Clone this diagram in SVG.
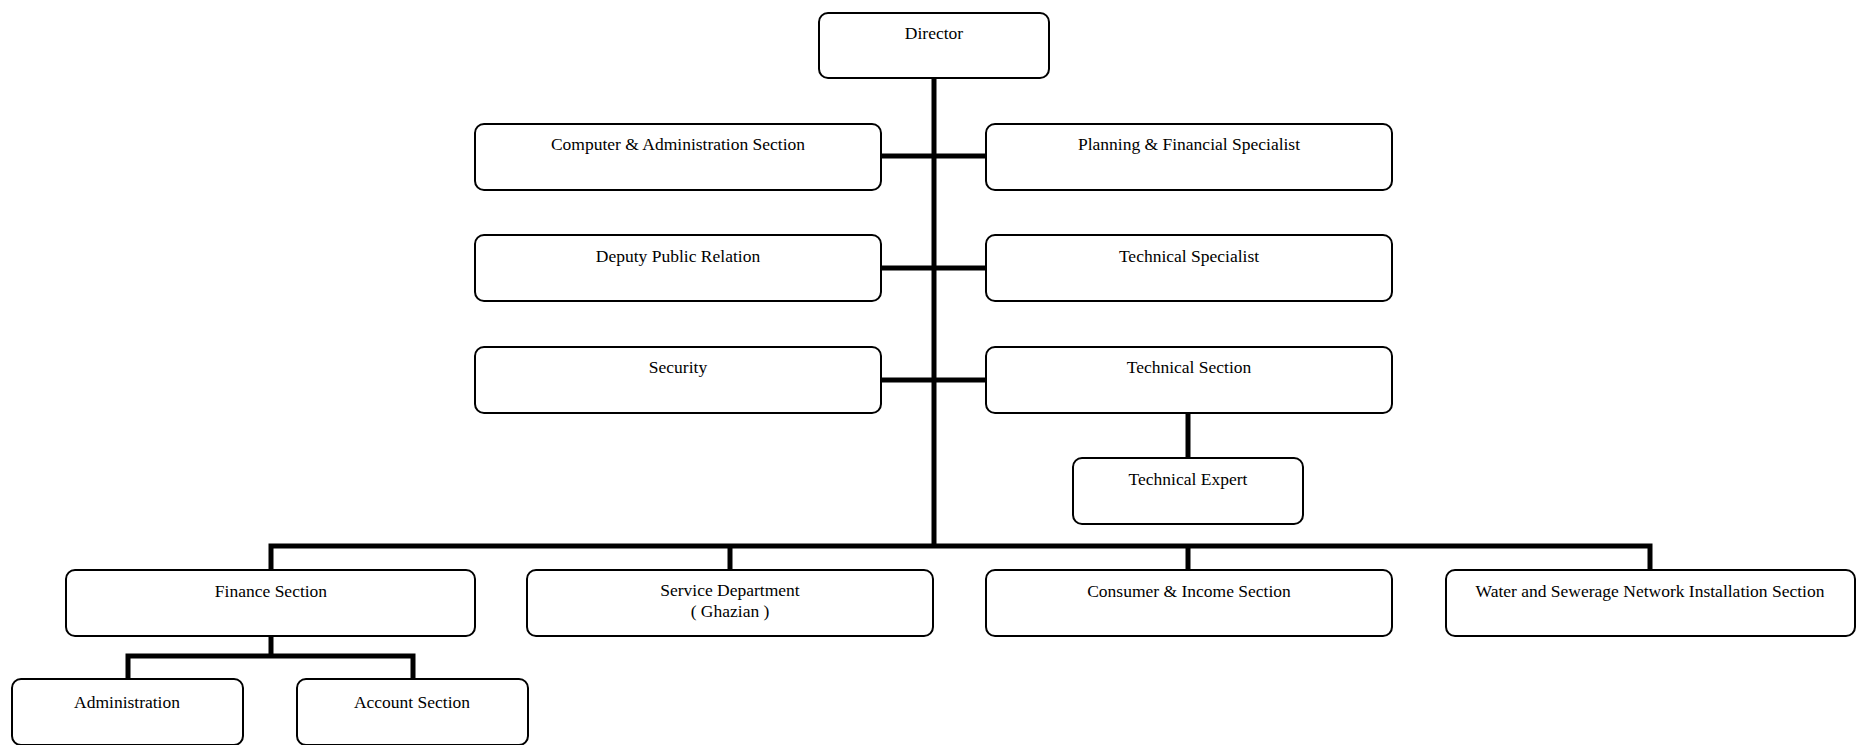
<svg xmlns="http://www.w3.org/2000/svg" width="1861" height="745" viewBox="0 0 1861 745">
<style>
  .box { fill: #ffffff; stroke: #000000; stroke-width: 2; }
  .lbl { font-family: "Liberation Serif", "Times New Roman", serif; font-size: 17.5px; fill: #000000; text-anchor: middle; }
  .conn { stroke: #000000; stroke-width: 5; fill: none; stroke-linecap: butt; }
</style>
<rect width="1861" height="745" fill="#ffffff"/>
<g id="connectors">
  <line class="conn" x1="934" y1="78" x2="934" y2="548"/>
  <line class="conn" x1="881" y1="156" x2="986" y2="156"/>
  <line class="conn" x1="881" y1="268" x2="986" y2="268"/>
  <line class="conn" x1="881" y1="380" x2="986" y2="380"/>
  <line class="conn" x1="1188" y1="413" x2="1188" y2="458"/>
  <polyline class="conn" points="271,570 271,546 1650,546 1650,570"/>
  <line class="conn" x1="730" y1="546" x2="730" y2="570"/>
  <line class="conn" x1="1188" y1="546" x2="1188" y2="570"/>
  <line class="conn" x1="271" y1="636" x2="271" y2="656"/>
  <polyline class="conn" points="128,679 128,656 413,656 413,679"/>
</g>
<g id="director"><rect class="box" x="819" y="13" width="230" height="65" rx="9"/><text class="lbl" x="934" y="39">Director</text></g>
<g id="computer-admin"><rect class="box" x="475" y="124" width="406" height="66" rx="9"/><text class="lbl" x="678" y="150">Computer &amp; Administration Section</text></g>
<g id="planning-financial"><rect class="box" x="986" y="124" width="406" height="66" rx="9"/><text class="lbl" x="1189" y="150">Planning &amp; Financial Specialist</text></g>
<g id="deputy-pr"><rect class="box" x="475" y="235" width="406" height="66" rx="9"/><text class="lbl" x="678" y="262">Deputy Public Relation</text></g>
<g id="technical-specialist"><rect class="box" x="986" y="235" width="406" height="66" rx="9"/><text class="lbl" x="1189" y="262">Technical Specialist</text></g>
<g id="security"><rect class="box" x="475" y="347" width="406" height="66" rx="9"/><text class="lbl" x="678" y="373">Security</text></g>
<g id="technical-section"><rect class="box" x="986" y="347" width="406" height="66" rx="9"/><text class="lbl" x="1189" y="373">Technical Section</text></g>
<g id="technical-expert"><rect class="box" x="1073" y="458" width="230" height="66" rx="9"/><text class="lbl" x="1188" y="485">Technical Expert</text></g>
<g id="finance"><rect class="box" x="66" y="570" width="409" height="66" rx="9"/><text class="lbl" x="271" y="597">Finance Section</text></g>
<g id="service"><rect class="box" x="527" y="570" width="406" height="66" rx="9"/><text class="lbl" x="730" y="596">Service Department</text><text class="lbl" x="730" y="617">( Ghazian )</text></g>
<g id="consumer"><rect class="box" x="986" y="570" width="406" height="66" rx="9"/><text class="lbl" x="1189" y="597">Consumer &amp; Income Section</text></g>
<g id="water"><rect class="box" x="1446" y="570" width="409" height="66" rx="9"/><text class="lbl" x="1650" y="597">Water and Sewerage Network Installation Section</text></g>
<g id="administration"><rect class="box" x="12" y="679" width="231" height="66" rx="9"/><text class="lbl" x="127" y="708">Administration</text></g>
<g id="account"><rect class="box" x="297" y="679" width="231" height="66" rx="9"/><text class="lbl" x="412" y="708">Account Section</text></g>
</svg>
